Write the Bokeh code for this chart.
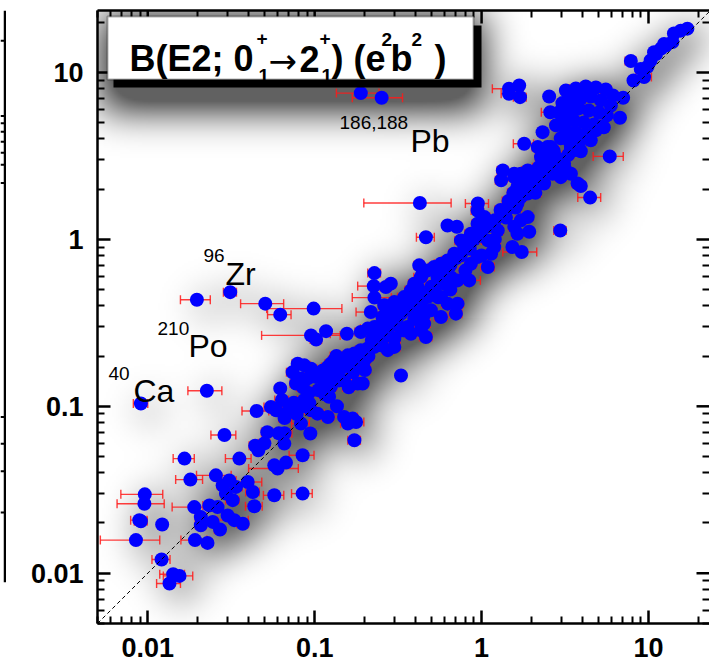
import numpy as np
from bokeh.plotting import figure
from bokeh.layouts import row
from bokeh.models import (ColumnDataSource, Whisker, TeeHead, Range1d, LogAxis,
                          FixedTicker, BoxAnnotation, Label)
from bokeh.embed import file_html
from bokeh.resources import INLINE

# B(E2; 0+ -> 2+) in e^2 b^2: experimental value (x, with its error) and model value (y)
# lower-left cluster
exp_low = [0.0288, 0.061, 0.066, 0.0658, 0.0166, 0.0354, 0.046, 0.060, 0.0673, 0.0847,
           0.018, 0.0256, 0.0308, 0.0397, 0.0281, 0.0338, 0.0426, 0.0096, 0.00955, 0.019,
           0.0234, 0.0262, 0.0323, 0.0435, 0.0573, 0.0847, 0.0294, 0.0089, 0.0091, 0.0122,
           0.0208, 0.0208, 0.0245, 0.0301, 0.033, 0.0371, 0.0271, 0.0085, 0.0192, 0.0228,
           0.0121, 0.0142, 0.0155, 0.0135]
th_low = [0.0673, 0.069, 0.069, 0.0598, 0.0486, 0.0486, 0.0545, 0.0424, 0.046, 0.0509,
          0.0364, 0.0386, 0.036, 0.0352, 0.0336, 0.0329, 0.0307, 0.0297, 0.0261, 0.0249,
          0.0255, 0.0249, 0.0274, 0.0252, 0.0293, 0.030, 0.030, 0.0208, 0.0205, 0.0196,
          0.0217, 0.0194, 0.0203, 0.0222, 0.0208, 0.0198, 0.0183, 0.0158, 0.0158, 0.0152,
          0.0121, 0.00986, 0.00964, 0.00868]
err_low = [0.0049, 0.009, 0.007, 0.004, 0.0024, 0.0062, 0.003, 0.0198, 0.004, 0.0144,
           0.0033, 0.006, 0.003, 0.0085, 0.002, 0.003, 0.004, 0.0027, 0.003, 0.005,
           0.002, 0.002, 0.003, 0.005, 0.008, 0.012, 0.002, 0.001, 0.0008, 0.0006,
           0.0015, 0.0015, 0.002, 0.002, 0.007, 0.003, 0.002, 0.0033, 0.0034, 0.0015,
           0.0015, 0.0024, 0.0031, 0.0022]

# light nuclei off the diagonal and the 0.05-0.2 region
exp_mid = [0.0091, 0.0226, 0.0197, 0.0312, 0.0506, 0.0622, 0.0986, 0.0951, 0.102, 0.117,
           0.156, 0.0449, 0.0622, 0.0637, 0.0547, 0.0588, 0.0721, 0.0867, 0.093, 0.0951,
           0.104, 0.120, 0.122, 0.136, 0.150, 0.169, 0.158, 0.177, 0.173, 0.0942,
           0.0828, 0.0573]
th_mid = [0.104, 0.124, 0.435, 0.483, 0.412, 0.354, 0.385, 0.266, 0.251, 0.282,
          0.272, 0.0937, 0.128, 0.109, 0.099, 0.0946, 0.101, 0.109, 0.104, 0.0946,
          0.0904, 0.0863, 0.114, 0.100, 0.0863, 0.0844, 0.0788, 0.0805, 0.0626, 0.0687,
          0.0788, 0.0443]
err_mid = [0.0009, 0.0052, 0.004, 0.0028, 0.0146, 0.010, 0.047, 0.047, 0.008, 0.006,
           0.032, 0.0082, 0.004, 0.006, 0.005, 0.004, 0.006, 0.008, 0.006, 0.008,
           0.010, 0.010, 0.008, 0.010, 0.030, 0.012, 0.015, 0.020, 0.015, 0.006,
           0.010, 0.004]

# points above the diagonal (Pb isotopes, 0.2-1)
exp_up = [0.189, 0.252, 0.427, 0.464, 0.625, 0.711, 0.95, 0.228, 0.226, 0.267,
          0.286, 0.228, 0.217, 0.261, 0.300, 0.344, 0.255, 0.423, 0.443, 0.377,
          0.414]
th_up = [7.52, 7.06, 1.65, 1.03, 1.21, 1.19, 1.64, 0.628, 0.525, 0.518,
         0.543, 0.448, 0.367, 0.403, 0.421, 0.431, 0.343, 0.699, 0.623, 0.483,
         0.518]
err_up = [0.054, 0.084, 0.23, 0.057, 0.03, 0.03, 0.15, 0.02, 0.045, 0.02,
          0.02, 0.06, 0.04, 0.02, 0.02, 0.03, 0.02, 0.03, 0.03, 0.03,
          0.03]

# heavy and deformed region
exp_heavy = [0.329, 2.96, 1.53, 1.74, 1.09, 0.843, 1.93, 4.47, 3.93, 5.86,
             6.75, 7.05, 5.18, 3.93, 3.43, 3.15, 2.98, 2.66, 1.80, 1.46,
             1.68, 1.70, 1.46, 2.54, 2.58, 3.05, 3.20, 7.84, 8.13, 9.41,
             8.99, 9.86, 10.3, 11.1, 11.9, 12.7, 13.9, 14.2, 15.6, 17.1,
             12.4, 10.8, 2.32, 2.48, 2.32, 2.66, 2.37, 1.34, 1.31, 1.57]
th_heavy = [0.153, 1.13, 0.90, 0.84, 0.683, 0.568, 1.11, 1.78, 2.09, 3.14,
            5.35, 7.06, 4.75, 3.37, 3.57, 2.65, 2.42, 2.53, 3.74, 7.98,
            8.36, 7.11, 7.45, 7.18, 5.78, 6.55, 7.80, 11.7, 8.95, 9.38,
            10.5, 10.8, 11.8, 12.9, 13.9, 14.5, 15.2, 17.1, 17.8, 18.3,
            14.8, 13.2, 4.39, 3.57, 3.26, 3.11, 2.84, 2.59, 2.26, 2.47]
err_heavy = [0.02, 0.25, 0.08, 0.4, 0.1, 0.14, 0.1, 0.7, 0.27, 1.2,
             0.4, 0.4, 0.3, 0.2, 0.2, 0.2, 0.2, 0.24, 0.25, 0.3,
             0.1, 0.15, 0.15, 0.15, 0.3, 0.2, 0.2, 0.6, 0.5, 1.0,
             0.4, 0.5, 0.5, 0.5, 0.6, 0.6, 0.6, 0.6, 0.6, 0.7,
             0.5, 0.5, 0.15, 0.15, 0.15, 0.15, 0.15, 0.1, 0.1, 0.1]

# rare-earth cluster
exp_re = [3.67, 4.21, 4.84, 5.55, 6.12, 3.43, 3.93, 4.51, 5.18, 5.95,
          3.33, 3.83, 4.39, 5.05, 5.63, 3.11, 3.57, 4.10, 4.71, 5.40,
          3.20, 3.67, 4.21, 4.84, 3.33, 3.83, 4.51, 2.98, 3.52, 2.79,
          2.90]
th_re = [8.02, 8.25, 8.13, 7.91, 7.28, 6.80, 6.98, 7.18, 6.80, 6.34,
         5.92, 6.09, 5.92, 5.76, 5.53, 5.16, 5.16, 5.02, 4.88, 4.69,
         4.50, 4.37, 4.25, 4.50, 3.92, 3.76, 3.92, 4.03, 3.41, 4.82,
         5.76]
err_re = [0.3, 0.3, 0.3, 0.4, 0.4, 0.25, 0.3, 0.3, 0.35, 0.4,
          0.25, 0.3, 0.3, 0.35, 0.4, 0.2, 0.25, 0.3, 0.3, 0.35,
          0.2, 0.25, 0.3, 0.3, 0.2, 0.25, 0.3, 0.2, 0.25, 0.2,
          0.2]

# dense band 0.07-0.5
exp_band = [0.189, 0.208, 0.228, 0.250, 0.274, 0.300, 0.329, 0.360, 0.395, 0.433,
            0.464, 0.433, 0.453, 0.475, 0.158, 0.173, 0.189, 0.208, 0.228, 0.250,
            0.274, 0.300, 0.140, 0.131, 0.125, 0.120, 0.112, 0.104, 0.0791, 0.0738,
            0.0773, 0.0867, 0.0951, 0.0828, 0.0908, 0.102, 0.109, 0.114, 0.125, 0.140,
            0.150, 0.181, 0.194]
th_band = [0.279, 0.292, 0.299, 0.285, 0.266, 0.254, 0.285, 0.299, 0.335, 0.313,
           0.260, 0.376, 0.451, 0.483, 0.202, 0.207, 0.217, 0.222, 0.227, 0.232,
           0.217, 0.227, 0.193, 0.189, 0.180, 0.172, 0.164, 0.157, 0.180, 0.160,
           0.137, 0.176, 0.168, 0.147, 0.147, 0.150, 0.153, 0.140, 0.131, 0.143,
           0.143, 0.137, 0.137]
err_band = [0.015, 0.02, 0.02, 0.02, 0.025, 0.025, 0.03, 0.03, 0.03, 0.035,
            0.04, 0.03, 0.03, 0.04, 0.012, 0.015, 0.015, 0.015, 0.02, 0.02,
            0.02, 0.025, 0.01, 0.01, 0.01, 0.01, 0.008, 0.008, 0.006, 0.006,
            0.006, 0.007, 0.008, 0.006, 0.007, 0.008, 0.008, 0.009, 0.01, 0.01,
            0.012, 0.015, 0.015]

# dense band 0.2-3
exp_diag = [0.946, 1.04, 0.946, 0.99, 0.863, 0.824, 0.752, 0.787, 0.686, 0.626,
            0.571, 0.520, 0.475, 0.433, 0.395, 0.377, 0.344, 0.314, 0.286, 0.261,
            0.238, 0.718, 0.702, 0.571, 0.497, 0.453, 0.433, 0.377, 0.344, 0.863,
            0.946, 1.14, 1.19, 0.545, 0.597, 0.655, 0.718, 0.520, 0.571, 0.475,
            0.433, 0.626, 1.37, 1.50, 1.64, 1.72, 1.89, 2.07, 2.60, 2.85,
            3.12, 1.14, 1.25, 1.09]
th_diag = [1.49, 1.36, 1.24, 1.13, 1.08, 0.986, 0.986, 0.899, 0.821, 0.748,
           0.715, 0.683, 0.652, 0.594, 0.543, 0.495, 0.451, 0.412, 0.376, 0.343,
           0.299, 0.412, 0.359, 0.343, 0.376, 0.313, 0.285, 0.272, 0.285, 0.715,
           0.784, 0.821, 0.899, 0.594, 0.543, 0.594, 0.568, 0.495, 0.451, 0.451,
           0.412, 0.412, 1.43, 1.56, 1.64, 1.79, 1.88, 2.06, 2.59, 2.71,
           2.84, 1.24, 1.13, 0.986]
err_diag = [0.08, 0.08, 0.07, 0.08, 0.07, 0.06, 0.06, 0.06, 0.05, 0.05,
            0.05, 0.04, 0.04, 0.04, 0.03, 0.03, 0.03, 0.025, 0.025, 0.02,
            0.02, 0.06, 0.06, 0.05, 0.04, 0.04, 0.035, 0.03, 0.03, 0.07,
            0.08, 0.09, 0.1, 0.04, 0.05, 0.05, 0.06, 0.04, 0.05, 0.04,
            0.035, 0.05, 0.1, 0.12, 0.12, 0.13, 0.15, 0.16, 0.2, 0.22,
            0.25, 0.09, 0.1, 0.09]

# transitional 1.5-4
exp_tr = [1.57, 1.72, 1.89, 1.64, 1.80, 1.97, 2.17, 2.37, 2.66, 2.98,
          3.43, 3.76, 2.17, 2.37, 2.60, 2.27, 2.48, 2.72, 2.85, 3.43,
          3.12, 3.43, 1.89, 1.72, 1.57, 1.64]
th_tr = [2.36, 2.47, 2.59, 2.06, 1.97, 2.16, 2.26, 2.16, 2.47, 2.36,
         2.47, 2.16, 3.57, 3.41, 3.57, 3.11, 2.97, 3.26, 2.84, 3.41,
         4.10, 4.30, 1.36, 1.30, 1.19, 1.08]
err_tr = [0.12, 0.12, 0.15, 0.12, 0.14, 0.15, 0.16, 0.18, 0.2, 0.22,
          0.25, 0.28, 0.16, 0.18, 0.2, 0.17, 0.18, 0.2, 0.2, 0.25,
          0.22, 0.25, 0.14, 0.13, 0.12, 0.12]

# further points filling the main band
exp_fill = [0.105, 0.115, 0.13, 0.145, 0.16, 0.17, 0.185, 0.20, 0.21, 0.135,
            0.12, 0.16, 0.20, 0.22, 0.24, 0.26, 0.28, 0.31, 0.33, 0.35,
            0.38, 0.41, 0.50, 0.55, 0.60, 0.65, 0.70, 0.75, 0.80, 0.85,
            0.90, 1.00, 1.10, 1.20, 1.30, 1.40, 1.45, 1.55, 1.60, 1.75,
            1.85, 2.00, 2.10, 2.20, 2.40, 2.50, 2.70, 3.00, 3.30, 0.092,
            0.085, 0.075, 0.066, 0.070, 0.078, 0.088, 0.050, 0.052, 0.044, 0.45,
            0.55, 0.65, 0.80, 1.00, 1.20]
th_fill = [0.125, 0.118, 0.16, 0.17, 0.185, 0.16, 0.175, 0.19, 0.20, 0.20,
           0.14, 0.13, 0.165, 0.25, 0.27, 0.26, 0.30, 0.33, 0.36, 0.38,
           0.40, 0.44, 0.52, 0.62, 0.66, 0.70, 0.77, 0.80, 0.95, 0.88,
           1.00, 1.05, 1.20, 1.30, 1.50, 1.35, 1.70, 1.90, 1.55, 2.00,
           2.30, 2.50, 1.90, 2.70, 2.60, 3.00, 3.40, 3.00, 3.20, 0.12,
           0.13, 0.105, 0.085, 0.095, 0.09, 0.10, 0.06, 0.07, 0.058, 0.35,
           0.45, 0.50, 0.65, 0.80, 1.00]
err_fill = [0.008, 0.009, 0.01, 0.012, 0.013, 0.014, 0.015, 0.016, 0.017, 0.011,
            0.01, 0.013, 0.016, 0.018, 0.02, 0.021, 0.022, 0.025, 0.026, 0.028,
            0.03, 0.033, 0.04, 0.044, 0.048, 0.052, 0.056, 0.06, 0.064, 0.068,
            0.072, 0.08, 0.088, 0.096, 0.1, 0.11, 0.12, 0.12, 0.13, 0.14,
            0.15, 0.16, 0.17, 0.18, 0.19, 0.2, 0.22, 0.24, 0.26, 0.007,
            0.007, 0.006, 0.005, 0.006, 0.006, 0.007, 0.004, 0.004, 0.0035, 0.036,
            0.044, 0.052, 0.064, 0.08, 0.096]

major_ticks = [0.01, 0.1, 1, 10]
tick_labels = ["0.01", "0.1", "1", "10"]

X_RANGE = (0.005, 23.2)
Y_RANGE = (0.005, 23.5)

b_exp = np.array(exp_low + exp_mid + exp_up + exp_heavy + exp_re + exp_band + exp_diag + exp_tr + exp_fill)
b_th = np.array(th_low + th_mid + th_up + th_heavy + th_re + th_band + th_diag + th_tr + th_fill)
b_err = np.array(err_low + err_mid + err_up + err_heavy + err_re + err_band + err_diag + err_tr + err_fill)

# page geometry of the plot frame, for screen-unit annotations
FRAME_LEFT, FRAME_BOTTOM = 97, 623
FRAME_W, FRAME_H = 612, 613
PX_PER_DECADE = 167.0


def sx(px):
    return px - FRAME_LEFT


def sy(py):
    return FRAME_BOTTOM - py


FONT = "Liberation Sans"

p = figure(width=703, height=668, x_axis_type="log", y_axis_type="log",
           x_range=Range1d(*X_RANGE), y_range=Range1d(*Y_RANGE),
           output_backend="svg", toolbar_location=None,
           min_border_left=91, min_border_right=0, min_border_top=10, min_border_bottom=45,
           outline_line_color=None, background_fill_color="white", border_fill_color="white")
p.grid.visible = False

minor_ticks = [m * 10.0 ** e for e in range(-3, 2) for m in range(2, 10)
               if X_RANGE[0] <= m * 10.0 ** e <= Y_RANGE[1]]
overrides = dict(zip(major_ticks, tick_labels))

# labelled axes (bottom, left)
for ax in [p.below[0], p.left[0]]:
    ax.ticker = FixedTicker(ticks=major_ticks, minor_ticks=minor_ticks)
    ax.major_tick_in = 13
    ax.major_tick_out = 0
    ax.minor_tick_in = 7
    ax.minor_tick_out = 0
    ax.axis_line_width = 2.5
    ax.major_tick_line_width = 2.5
    ax.minor_tick_line_width = 2
    ax.major_label_overrides = overrides
    ax.major_label_text_font = FONT
    ax.major_label_text_font_style = "bold"
    ax.major_label_text_font_size = "27px"
    ax.major_label_text_color = "black"
    ax.major_label_standoff = 14

# mirror axes (top, right): minor ticks only, no labels
top_axis = LogAxis(ticker=FixedTicker(ticks=[], minor_ticks=minor_ticks),
                   minor_tick_in=7, minor_tick_out=0, major_tick_in=0, major_tick_out=0,
                   axis_line_width=2.5, minor_tick_line_width=2)
right_axis = LogAxis(ticker=FixedTicker(ticks=[], minor_ticks=minor_ticks),
                     minor_tick_in=7, minor_tick_out=0, major_tick_in=0, major_tick_out=0,
                     axis_line_color=None, minor_tick_line_width=2)
p.add_layout(top_axis, "above")
p.add_layout(right_axis, "right")

# long mirror ticks at the decades
tick_f = 10 ** (13 / PX_PER_DECADE)
n_major = len(major_ticks)
p.segment(x0=major_ticks, x1=major_ticks, y0=[Y_RANGE[1] / tick_f] * n_major,
          y1=[Y_RANGE[1]] * n_major, line_color="black", line_width=2.5)
p.segment(x0=[X_RANGE[1] / tick_f] * n_major, x1=[X_RANGE[1]] * n_major,
          y0=major_ticks, y1=major_ticks, line_color="black", line_width=2.5)

# ---- soft drop shadow: blurred footprint of markers and title box ----
CELL = 2.0                                   # px per shadow cell
NX, NY = int(FRAME_W / CELL), int(FRAME_H / CELL)
lx0, lx1 = np.log10(X_RANGE)
ly0, ly1 = np.log10(Y_RANGE)
gx = (np.log10(b_exp) - lx0) / (lx1 - lx0) * NX + 4.0     # shadow shifted right
gy = (np.log10(b_th) - ly0) / (ly1 - ly0) * NY - 4.0      # and down
yy, xx = np.mgrid[0:NY, 0:NX]
cover = np.zeros((NY, NX))
r2 = (8.0 / CELL) ** 2
for cx, cy in zip(gx, gy):
    m = (xx - cx) ** 2 + (yy - cy) ** 2 <= r2
    cover[m] = 1.0
# title box footprint, spread a little below the box
bx0, bx1 = sx(100) / CELL, sx(481) / CELL
by0, by1 = (sy(87) - 24) / CELL, sy(16) / CELL
cover[(xx >= bx0) & (xx <= bx1) & (yy >= by0) & (yy <= by1)] = 1.0


def gblur(a, sigma):
    r = int(3 * sigma)
    k = np.exp(-0.5 * (np.arange(-r, r + 1) / sigma) ** 2)
    k /= k.sum()
    a = np.apply_along_axis(lambda v: np.convolve(v, k, mode="same"), 0, a)
    a = np.apply_along_axis(lambda v: np.convolve(v, k, mode="same"), 1, a)
    return a


haze = np.clip(gblur(cover, 9.5) * 0.9, 0, 0.62)
rgba = np.zeros((NY, NX), dtype=np.uint32)
view = rgba.view(dtype=np.uint8).reshape((NY, NX, 4))
view[..., 0:3] = 0
view[..., 3] = (haze * 255).astype(np.uint8)
p.image_rgba(image=[rgba], x=X_RANGE[0], y=Y_RANGE[0], dw=X_RANGE[1] - X_RANGE[0],
             dh=Y_RANGE[1] - Y_RANGE[0], level="underlay")

src = ColumnDataSource(dict(x=b_exp, y=b_th, lo=b_exp - b_err, hi=b_exp + b_err))
err_color = "#ff1a1a"
whisk = Whisker(source=src, base="y", lower="lo", upper="hi", dimension="width",
                line_color=err_color, line_width=1.4, line_alpha=0.85, level="underlay",
                lower_head=TeeHead(size=9, line_color=err_color, line_width=1.4, line_alpha=0.85),
                upper_head=TeeHead(size=9, line_color=err_color, line_width=1.4, line_alpha=0.85))
p.add_layout(whisk)

p.scatter("x", "y", source=src, size=14, fill_color="#0000ff", line_color=None)

# y = x reference
p.line([X_RANGE[0], Y_RANGE[1]], [X_RANGE[0], Y_RANGE[1]], line_color="black",
       line_dash="4 3", line_width=1)

# title box with hard black shadow
p.add_layout(BoxAnnotation(left=sx(113), right=sx(481), top=sy(25), bottom=sy(87),
                           left_units="screen", right_units="screen",
                           top_units="screen", bottom_units="screen",
                           fill_color="black", fill_alpha=1, line_color=None))
p.add_layout(BoxAnnotation(left=sx(107), right=sx(473), top=sy(16), bottom=sy(79),
                           left_units="screen", right_units="screen",
                           top_units="screen", bottom_units="screen",
                           fill_color="white", fill_alpha=1, line_color="black", line_width=2))


def text(px, py, s, size, bold=False, font=FONT):
    p.add_layout(Label(x=sx(px), y=sy(py), x_units="screen", y_units="screen", text=s,
                       text_font=font, text_font_size=f"{size}px",
                       text_font_style="bold" if bold else "normal",
                       text_color="black", text_align="left", text_baseline="alphabetic"))


# B(E2; 0_1^+ -> 2_1^+) (e^2 b^2)
text(129, 58, "B(E2; 0", 36, True)
text(256, 38, "+", 19, True)
text(258, 75, "1", 19, True)
text(268, 60, "\u2192", 34, font="DejaVu Sans")
text(299, 58, "2", 36, True)
text(319, 38, "+", 19, True)
text(321, 75, "1", 19, True)
text(331, 58, ") (e", 36, True)
text(381, 39, "2", 19, True)
text(390, 58, "b", 36, True)
text(411, 39, "2", 19, True)
text(434, 58, ")", 36, True)

# nuclide tags
text(339, 122, "186,188", 19)
text(410, 140, "Pb", 32)
text(203, 255, "96", 19)
text(225, 273, "Zr", 32)
text(157, 328, "210", 19)
text(188, 345, "Po", 32)
text(108, 373, "40", 19)
text(133, 390, "Ca", 32)

# edge of the neighbouring panel on the left
side_tick_px = [33, 115, 123, 132, 143, 155, 168, 188, 443, 472, 502, 547]
lp = figure(width=6, height=668, x_range=Range1d(0, 6), y_range=Range1d(668, 0),
            output_backend="svg", toolbar_location=None, min_border=0,
            x_axis_location=None, y_axis_location=None, outline_line_color=None,
            background_fill_color="white", border_fill_color="white")
lp.grid.visible = False
lp.segment(x0=[4.5], y0=[0], x1=[4.5], y1=[623], line_color="black", line_width=2.5)
lp.segment(x0=[0] * len(side_tick_px), y0=side_tick_px, x1=[4.5] * len(side_tick_px),
           y1=side_tick_px, line_color="black", line_width=2)

layout = row(lp, p)
open("out.html", "w").write(file_html(layout, INLINE, title="B(E2) comparison"))
